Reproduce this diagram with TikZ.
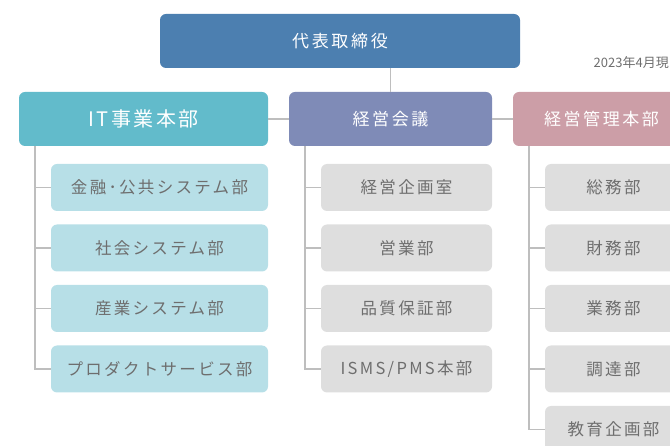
\documentclass[tikz,border=0pt]{standalone}
\usepackage{fontspec}
\setmainfont{Noto Sans CJK JP}

% colours of the chart
\definecolor{ceoblue}{RGB}{76,127,176}
\definecolor{itcyan}{RGB}{98,187,203}
\definecolor{itlight}{RGB}{183,223,231}
\definecolor{kaigiblue}{RGB}{127,139,183}
\definecolor{kanrirose}{RGB}{204,158,167}
\definecolor{unitgray}{RGB}{222,222,222}
\definecolor{linegray}{RGB}{190,190,190}
\definecolor{txtgray}{RGB}{110,110,110}

\begin{document}
\begin{tikzpicture}[x=1pt,y=-1pt,
    box/.style={rounded corners=6pt, inner sep=0pt, align=center},
    head/.style={box, minimum height=54pt, text=white,
      font=\fontsize{17}{20}\selectfont\addfontfeatures{LetterSpace=15}},
    unit/.style={box, minimum height=47pt, text=txtgray,
      font=\fontsize{16.5}{19}\selectfont\addfontfeatures{LetterSpace=14}},
    link/.style={draw=linegray, line width=1.4pt}]

    % Frame of the picture (the chart runs on past the right edge)
    \useasboundingbox (0,0) rectangle (670,446);
    \clip (0,0) rectangle (670,446);

    % Top of the chart
    \node[head, fill=ceoblue, minimum width=360pt,
      font=\fontsize{17}{20}\selectfont\addfontfeatures{LetterSpace=16}] (ceo) at (340,41) {代表取締役};
    \node[anchor=east, inner sep=0pt, text=txtgray, font=\fontsize{13}{15}\selectfont] (asof) at (669,63) {2023年4月現};

    % The three heads
    \node[head, fill=itcyan, minimum width=249pt,
      font=\fontsize{20}{23}\selectfont\addfontfeatures{LetterSpace=12}] (it) at (143.5,119) {IT事業本部};
    \node[head, fill=kaigiblue, minimum width=203pt] (kaigi) at (390.5,119) {経営会議};
    \node[head, fill=kanrirose, minimum width=177pt] (kanri) at (601.5,119) {経営管理本部};

    % Links between the heads
    \draw[link] (ceo.south -| kaigi.north) -- (kaigi.north);
    \draw[link] (it.east) -- (kaigi.west);
    \draw[link] (kaigi.east) -- (kanri.west);

    % Where the trunk lines start
    \coordinate (ittrunk) at (35,146);
    \coordinate (kaigitrunk) at (305,146);
    \coordinate (kanritrunk) at (529,146);

    % Units of IT事業本部
    \foreach \name [count=\i] in {金融･公共システム部, 社会システム部, 産業システム部, プロダクトサービス部} {
      \node[unit, fill=itlight, minimum width=217pt] (it\i) at (159.5,127+60.5*\i) {\name};
      \draw[link] (ittrunk) |- (it\i.west);
    }

    % Units of 経営会議
    \foreach \name [count=\i] in {経営企画室, 営業部, 品質保証部, ISMS/PMS本部} {
      \node[unit, fill=unitgray, minimum width=171pt] (kaigi\i) at (406.5,127+60.5*\i) {\name};
      \draw[link] (kaigitrunk) |- (kaigi\i.west);
    }

    % Units of 経営管理本部
    \foreach \name [count=\i] in {総務部, 財務部, 業務部, 調達部, 教育企画部} {
      \node[unit, fill=unitgray, minimum width=137pt] (kanri\i) at (613.5,127+60.5*\i) {\name};
      \draw[link] (kanritrunk) |- (kanri\i.west);
    }

\end{tikzpicture}
\end{document}
